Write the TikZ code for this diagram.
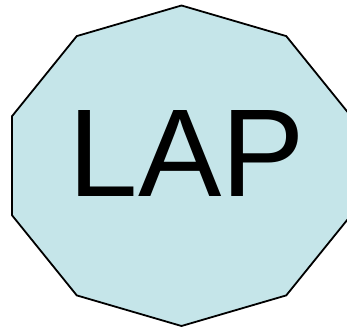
\documentclass[tikz,border=0pt]{standalone}
\usepackage{fontspec}
\setmainfont{Liberation Sans}
\usetikzlibrary{calc}

\definecolor{lapfill}{HTML}{C5E5E9}

\begin{document}
\begin{tikzpicture}[x=1pt,y=1pt]

% --------------------
% Parameters
% --------------------
\def\cx{181.5}  % centre x
\def\cy{162.25} % centre y
\def\rx{178.2}  % horizontal radius
\def\ry{160.25} % vertical radius

\tikzset{
  decagon/.style={draw=black, line width=1.8pt, line join=miter, fill=lapfill},
  biglabel/.style={inner sep=0pt, anchor=base, font=\fontsize{125}{125}\selectfont}
}

\useasboundingbox (0,0) rectangle (347,328);

% --------------------
% Decagon outline
% --------------------
\coordinate (c) at (\cx,\cy);
\foreach \i in {0,...,9} {
  \coordinate (v\i) at ($(c)+({\rx*cos(90+36*\i)},{\ry*sin(90+36*\i)})$);
}
\path[decagon] (v0) -- (v1) -- (v2) -- (v3) -- (v4) -- (v5)
  -- (v6) -- (v7) -- (v8) -- (v9) -- cycle;

% --------------------
% Label
% --------------------
\node[biglabel] (lap) at (187,131) {LAP};

\end{tikzpicture}
\end{document}
